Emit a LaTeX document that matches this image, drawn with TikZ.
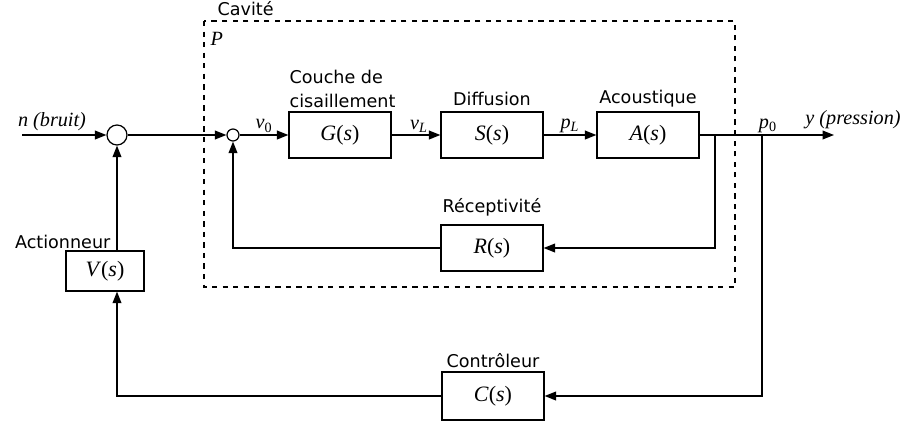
\documentclass[tikz,border=0pt]{standalone}
\usepackage{fontspec}
\setmainfont{Liberation Serif}
\setsansfont{DejaVu Sans}
\usetikzlibrary{arrows.meta}

\tikzset{
  bloc/.style={draw,minimum width=2.04cm,minimum height=0.92cm,inner sep=0pt,font=\fontsize{12.5}{14}\selectfont},
  somme/.style={draw,circle,inner sep=0pt},
  titre/.style={font=\sffamily\fontsize{10}{13.5}\selectfont,inner sep=0pt},
  signal/.style={inner sep=0pt,font=\fontsize{11.5}{13}\selectfont},
  fleche/.style={-{Triangle[length=6.5pt,width=5pt]}},
}

\begin{document}
\begin{tikzpicture}[x=0.02cm,y=-0.02cm,line width=0.7pt]
\useasboundingbox (0,0) rectangle (907,423);

% cavite
\draw [dashed] (204,21) rectangle (735,287);
\node [titre,anchor=west] (cavite) at (217,9) {Cavité};
\node [signal,anchor=west] (plante) at (210,39) {\textit{P}};

% blocs
\node [somme,minimum size=0.4cm] (s1) at (117,135) {};
\node [somme,minimum size=0.24cm] (s2) at (233,135) {};
\node [bloc] (g) at (340,135) {\textit{G}(\textit{s})};
\node [bloc] (s) at (492,135) {\textit{S}(\textit{s})};
\node [bloc] (a) at (648,135) {\textit{A}(\textit{s})};
\node [bloc] (r) at (492,248) {\textit{R}(\textit{s})};
\node [bloc,minimum height=0.96cm] (c) at (493,396) {\textit{C}(\textit{s})};
\node [bloc,minimum width=1.56cm,minimum height=0.8cm] (v) at (105,271) {\textit{V}(\textit{s})};

% titres des blocs
\node [titre,align=left,anchor=south west] (tg) at (289,108) {Couche de\\cisaillement};
\node [titre] (ts) at (492,99) {Diffusion};
\node [titre] (ta) at (648,99) {Acoustique};
\node [titre] (tr) at (492,207) {Réceptivité};
\node [titre] (tc) at (493,361) {Contrôleur};
\node [titre,anchor=east] (tv) at (111,242) {Actionneur};

% signaux
\coordinate (entree) at (22,135);
\coordinate (sortie) at (834,135);
\coordinate (b1) at (715,135);
\coordinate (b2) at (762,135);
\node [signal] (bruit) at (52,122) {\textit{n (bruit)}};
\node [signal] (pression) at (853,120) {\textit{y (pression)}};
\node [signal] (v0) at (264,126) {\textit{v}\textsubscript{0}};
\node [signal] (vl) at (419,126) {\textit{v}\textsubscript{\textit{L}}};
\node [signal] (pl) at (570,126) {\textit{p}\textsubscript{\textit{L}}};
\node [signal] (p0) at (768,126) {\textit{p}\textsubscript{0}};

% liaisons
\draw [fleche] (entree) -- (s1);
\draw [fleche] (s1) -- (s2);
\draw [fleche] (s2) -- (g);
\draw [fleche] (g) -- (s);
\draw [fleche] (s) -- (a);
\draw [fleche] (a) -- (sortie);
\draw [fleche] (b1) |- (r);
\draw [fleche] (r) -| (s2);
\draw [fleche] (b2) |- (c);
\draw [fleche] (c) -| (s1 |- v.south);
\draw [fleche] (s1 |- v.north) -- (s1);
\end{tikzpicture}
\end{document}
